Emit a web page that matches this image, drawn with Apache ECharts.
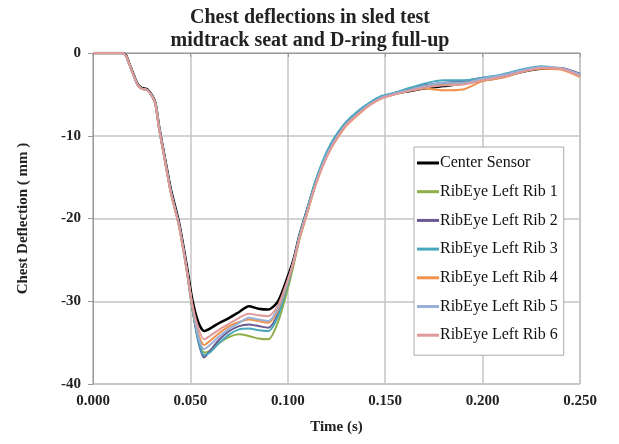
<!DOCTYPE html>
<html>
<head>
<meta charset="utf-8">
<script src="https://cdn.jsdelivr.net/npm/echarts@6/dist/echarts.min.js"></script>
<style>html,body{margin:0;padding:0;background:#fff;}#c{width:619px;height:444px;}</style>
</head>
<body>
<div id="c"></div>
<script>
var time = [0, 0.005, 0.010, 0.015, 0.017, 0.019, 0.021, 0.023, 0.025, 0.028, 0.030, 0.032, 0.034, 0.037, 0.040, 0.044, 0.048, 0.051, 0.054, 0.057, 0.060, 0.065, 0.070, 0.075, 0.080, 0.085, 0.090, 0.095, 0.100, 0.103, 0.106, 0.110, 0.114, 0.118, 0.122, 0.126, 0.130, 0.136, 0.142, 0.148, 0.155, 0.160, 0.170, 0.180, 0.190, 0.200, 0.210, 0.220, 0.230, 0.240, 0.250];

var centerSensor = [0,0,0,0,-0.3,-1.5,-2.7,-3.8,-4.2,-4.4,-5.0,-6.0,-9.0,-12.8,-16.5,-20.3,-25.5,-29.8,-32.5,-33.6,-33.3,-32.6,-32.0,-31.3,-30.6,-30.9,-31.0,-30.0,-27.0,-24.9,-22.0,-18.9,-15.8,-13.3,-11.3,-9.8,-8.5,-7.3,-6.1,-5.4,-4.9,-4.7,-4.3,-4.0,-3.7,-3.3,-2.9,-2.3,-1.9,-1.9,-2.7];
var rib1 = [0,0,0,0,-0.4,-1.6,-2.8,-3.9,-4.3,-4.5,-5.1,-6.2,-9.3,-13.2,-17.0,-20.8,-26.2,-31.0,-34.5,-36.2,-36.0,-35.0,-34.3,-34.0,-34.2,-34.5,-34.6,-32.5,-28.5,-25.6,-22.5,-19.3,-16.0,-13.5,-11.5,-9.9,-8.6,-7.3,-6.2,-5.4,-4.9,-4.6,-4.1,-3.8,-3.6,-3.2,-2.8,-2.2,-1.8,-1.9,-2.8];
var rib2 = [0,0,0,0,-0.4,-1.6,-2.8,-3.9,-4.3,-4.5,-5.1,-6.1,-9.2,-13.0,-16.8,-20.6,-26.0,-30.8,-34.8,-36.8,-36.0,-34.6,-33.6,-33.0,-32.8,-33.0,-33.2,-31.5,-27.8,-25.3,-22.3,-19.1,-15.9,-13.3,-11.3,-9.8,-8.5,-7.2,-6.1,-5.3,-4.8,-4.5,-3.9,-3.6,-3.4,-3.0,-2.7,-2.1,-1.8,-1.8,-2.5];
var rib3 = [0,0,0,0,-0.4,-1.6,-2.8,-3.9,-4.3,-4.5,-5.1,-6.1,-9.2,-13.0,-16.8,-20.6,-26.0,-30.8,-34.6,-36.5,-36.2,-35.0,-34.0,-33.4,-33.3,-33.5,-33.6,-31.8,-27.9,-25.2,-22.0,-18.8,-15.6,-13.0,-11.0,-9.5,-8.3,-7.0,-6.0,-5.2,-4.8,-4.4,-3.7,-3.3,-3.3,-3.0,-2.6,-2.0,-1.6,-1.9,-2.6];
var rib4 = [0,0,0,0,-0.4,-1.6,-2.8,-3.9,-4.3,-4.5,-5.1,-6.1,-9.2,-13.1,-16.9,-20.7,-26.0,-30.6,-33.9,-35.3,-34.8,-33.8,-33.0,-32.5,-32.2,-32.4,-32.6,-31.0,-27.6,-25.3,-22.4,-19.3,-16.2,-13.6,-11.6,-10.1,-8.8,-7.5,-6.3,-5.5,-5.0,-4.7,-4.3,-4.5,-4.4,-3.4,-3.0,-2.3,-1.9,-2.0,-2.9];
var rib5 = [0,0,0,0,-0.4,-1.6,-2.8,-3.9,-4.3,-4.5,-5.1,-6.1,-9.1,-13.0,-16.8,-20.6,-25.9,-30.5,-34.2,-35.8,-35.3,-34.2,-33.3,-32.6,-32.0,-32.2,-32.4,-30.8,-27.5,-25.1,-22.2,-19.1,-16.0,-13.4,-11.4,-9.9,-8.6,-7.3,-6.2,-5.4,-4.9,-4.6,-4.0,-3.6,-3.6,-3.1,-2.7,-2.1,-1.7,-1.8,-2.6];
var rib6 = [0,0,0,0,-0.4,-1.6,-2.8,-3.9,-4.3,-4.5,-5.1,-6.1,-9.2,-13.1,-16.9,-20.7,-26.0,-30.4,-33.2,-34.6,-34.2,-33.4,-32.7,-32.0,-31.5,-31.7,-31.8,-30.5,-27.4,-25.2,-22.3,-19.2,-16.1,-13.6,-11.6,-10.0,-8.7,-7.4,-6.3,-5.5,-5.0,-4.7,-4.2,-3.9,-3.8,-3.3,-2.9,-2.3,-1.8,-1.9,-2.8];

var seriesNames = ['Center Sensor','RibEye Left Rib 1','RibEye Left Rib 2','RibEye Left Rib 3','RibEye Left Rib 4','RibEye Left Rib 5','RibEye Left Rib 6'];
var seriesValues = [centerSensor, rib1, rib2, rib3, rib4, rib5, rib6];
var seriesColors = ['#000000','#8fae4a','#6a5a92','#4aa8be','#f0924a','#98b0d8','#e09a9a'];
var xTicks = {min: 0, max: 0.25, interval: 0.05};
var yTicks = {min: -40, max: 0, interval: 10};

var serif = '"Liberation Serif", "Times New Roman", serif';
var chart = echarts.init(document.getElementById('c'));
var series = seriesNames.map(function (n, i) {
  return {
    name: n, type: 'line', showSymbol: false, symbol: 'none',
    smooth: 0.25,
    lineStyle: {color: seriesColors[i], width: i === 0 ? 2.5 : 2},
    itemStyle: {color: seriesColors[i]},
    data: time.map(function (t, k) { return [t, seriesValues[i][k]]; }),
    z: 2
  };
});
chart.setOption({
  animation: false,
  backgroundColor: '#fff',
  title: {
    text: 'Chest deflections in sled test\nmidtrack seat and D-ring full-up',
    left: 305, top: 1, textAlign: 'center',
    textStyle: {fontFamily: serif, fontWeight: 'bold', fontSize: 20, color: '#222', lineHeight: 23}
  },
  grid: {left: 93, right: 39, top: 53, bottom: 60, show: true, borderColor: '#a8a8a8', borderWidth: 1, containLabel: false},
  legend: {
    orient: 'vertical', left: 414, top: 147,
    backgroundColor: '#fff', borderColor: '#aaa', borderWidth: 1,
    padding: [8, 6, 12, 3],
    itemGap: 12.7, itemWidth: 22, itemHeight: 3, icon: 'rect',
    textStyle: {fontFamily: serif, fontSize: 16, color: '#111', padding: [0, 0, 0, -4]},
    data: seriesNames
  },
  xAxis: {
    type: 'value', min: xTicks.min, max: xTicks.max, interval: xTicks.interval,
    name: 'Time (s)', nameLocation: 'middle', nameGap: 36,
    nameTextStyle: {fontFamily: serif, fontWeight: 'bold', fontSize: 15, color: '#222'},
    axisLine: {show: true, lineStyle: {color: '#999'}},
    axisTick: {show: true, length: 4, lineStyle: {color: '#999'}},
    axisLabel: {fontFamily: serif, fontWeight: 'bold', fontSize: 15, color: '#222', margin: 10,
      formatter: function (v) { return v.toFixed(3); }},
    splitLine: {show: true, lineStyle: {color: '#c4c4c4', width: 1.5}}
  },
  yAxis: {
    type: 'value', min: yTicks.min, max: yTicks.max, interval: yTicks.interval,
    name: 'Chest Deflection ( mm )', nameLocation: 'middle', nameGap: 62,
    nameTextStyle: {fontFamily: serif, fontWeight: 'bold', fontSize: 15, color: '#222'},
    axisLine: {show: true, onZero: false, lineStyle: {color: '#999'}},
    axisTick: {show: true, length: 5, lineStyle: {color: '#999'}},
    axisLabel: {fontFamily: serif, fontWeight: 'bold', fontSize: 15, color: '#222', margin: 12},
    splitLine: {show: true, lineStyle: {color: '#c4c4c4', width: 1.5}}
  },
  series: series
});
</script>
</body>
</html>
